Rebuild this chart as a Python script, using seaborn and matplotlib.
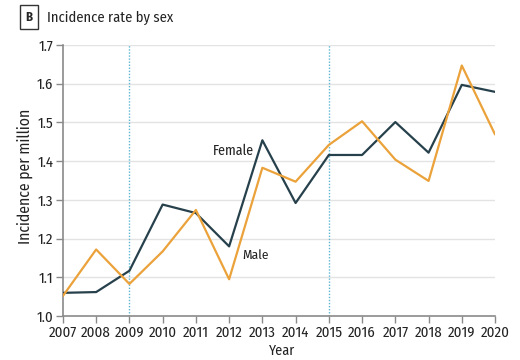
import pandas as pd
import matplotlib.pyplot as plt
import seaborn as sns

# Data
years = list(range(2007, 2021))
female = [1.060, 1.062, 1.117, 1.288, 1.266, 1.180, 1.454, 1.292,
          1.416, 1.416, 1.501, 1.422, 1.597, 1.579]
male = [1.052, 1.172, 1.083, 1.167, 1.274, 1.095, 1.383, 1.347,
        1.442, 1.503, 1.404, 1.349, 1.647, 1.469]
y_ticks = [1.0, 1.1, 1.2, 1.3, 1.4, 1.5, 1.6, 1.7]
marker_years = [2009, 2015]

df = pd.DataFrame({
    'Year': years * 2,
    'Rate': female + male,
    'Sex': ['Female'] * len(years) + ['Male'] * len(years),
})

sns.set_theme(style="white")
plt.rcParams['font.family'] = ['Fira Sans Condensed', 'DejaVu Sans']

fig = plt.figure(figsize=(5.2, 3.6), dpi=100)
renderer = fig.canvas.get_renderer()


def fit_size(text, width_px, **kw):
    # font size that makes `text` about width_px pixels wide
    t = fig.text(0, 0, text, fontsize=10, **kw)
    w = t.get_window_extent(renderer).width
    t.remove()
    return 10 * width_px / w


tick_fs = fit_size('2007', 28)
label_fs = fit_size('Female', 41)
male_fs = fit_size('Male', 26.5)
ylab_fs = fit_size('Incidence per million', 135)
xlab_fs = fit_size('Year', 26)
title_fs = fit_size('Incidence rate by sex', 126)

ax = fig.add_axes([0.121, 0.122, 0.831, 0.753])

# grid + period markers
for y in y_ticks[1:]:
    ax.axhline(y, color='#e3e3e3', lw=1.0, zorder=0)
for x in marker_years:
    ax.axvline(x, color='#5cb6d3', lw=1.0, ls=(0, (1, 1.2)), zorder=1)

sns.lineplot(data=df, x='Year', y='Rate', hue='Sex',
             palette={'Female': '#27414c', 'Male': '#eba23a'},
             lw=1.6, legend=False, ax=ax, zorder=3)

ax.set_xlim(2007, 2020)
ax.set_ylim(1.0, 1.7)
ax.set_xticks(years)
ax.set_yticks(y_ticks)
ax.set_yticklabels([f"{v:.1f}" for v in y_ticks])
ax.tick_params(axis='both', labelsize=tick_fs, colors='#222222', length=5,
               width=1, color='#8a8a8a', pad=2, bottom=True, left=True)
for side in ['top', 'right']:
    ax.spines[side].set_visible(False)
for side in ['left', 'bottom']:
    ax.spines[side].set_color('#8a8a8a')
    ax.spines[side].set_linewidth(1.2)

# axis titles placed where they sit in the reference
ax.set_xlabel('')
ax.set_ylabel('')
fig.text(282 / 520, 1 - 351 / 360, 'Year', fontsize=xlab_fs, color='#222222',
         ha='center', va='center')
fig.text(25 / 520, 1 - 176 / 360, 'Incidence per million', fontsize=ylab_fs,
         color='#222222', ha='center', va='center', rotation=90)

ax.text(2012.13, 1.426, 'Female', fontsize=label_fs, color='#222222', ha='center', va='center')
ax.text(2012.78, 1.156, 'Male', fontsize=male_fs, color='#222222', ha='center', va='center')

fig.text(29 / 520, 1 - 17 / 360, 'B', fontsize=tick_fs * 0.85, fontweight='bold',
         ha='center', va='center',
         bbox=dict(boxstyle='square,pad=0.45', fc='white', ec='#333333', lw=1))
fig.text(47 / 520, 1 - 17.5 / 360, 'Incidence rate by sex', fontsize=title_fs,
         color='#222222', ha='left', va='center')

fig.savefig('out.png', dpi=100)
